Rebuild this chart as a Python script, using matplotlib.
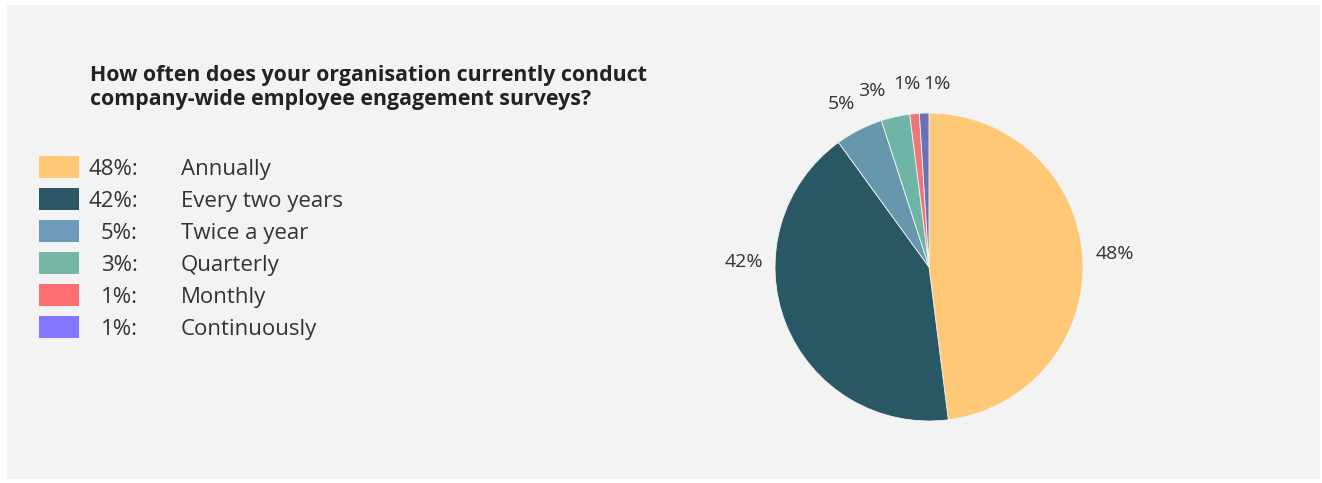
import matplotlib.pyplot as plt
from matplotlib.patches import Rectangle

# data
categories = ["Annually", "Every two years", "Twice a year", "Quarterly", "Monthly", "Continuously"]
values = [48, 42, 5, 3, 1, 1]
title = "How often does your organisation currently conduct\ncompany-wide employee engagement surveys?"
legend_colors = ["#FFC876", "#2C5665", "#6C9AB8", "#76B6A4", "#FF6E73", "#8576FF"]
pie_colors = ["#FFC876", "#2A5764", "#6797AD", "#6EB5A5", "#F07577", "#6A71B6"]

# label placement (in pie radius units), tuned to keep the small slices readable
label_pos = [(1.208, 0.097), (-1.201, 0.045), (-0.571, 1.071),
             (-0.370, 1.156), (-0.143, 1.201), (0.052, 1.201)]

W, H = 1322, 483
fig = plt.figure(figsize=(W / 100, H / 100), dpi=100)
fig.patch.set_facecolor("white")

# background axes in pixel coords (grey panel, title, legend)
bg = fig.add_axes([0, 0, 1, 1], zorder=-1)
bg.set_xlim(0, W)
bg.set_ylim(H, 0)
bg.axis("off")
bg.add_patch(Rectangle((7, 5), 1313, 474, facecolor="#F3F3F3", edgecolor="none"))

for k, line in enumerate(title.split("\n")):
    bg.text(90, 81 + 24 * k, line, fontsize=15.4, fontweight="bold", family="Open Sans",
            color="#222222", va="baseline", ha="left")

for i, (cat, v) in enumerate(zip(categories, values)):
    yc = 167 + 32 * i
    bg.add_patch(Rectangle((39, yc - 11), 40, 22, facecolor=legend_colors[i], edgecolor="none"))
    bg.text(138, yc + 8, f"{v}%:", fontsize=16, family="Open Sans", color="#333333",
            va="baseline", ha="right")
    bg.text(181, yc + 8, cat, fontsize=16, family="Open Sans", color="#333333",
            va="baseline", ha="left")

# pie
r = 154
ax = fig.add_axes([(929 - 1.3 * r) / W, (H - 267 - 1.3 * r) / H, 2.6 * r / W, 2.6 * r / H])
ax.set_facecolor("none")
wedges, texts = ax.pie(values, colors=pie_colors, startangle=90, counterclock=False,
                       labels=[f"{v}%" for v in values], labeldistance=1.2,
                       wedgeprops=dict(linewidth=0.6, edgecolor="#F3F3F3"),
                       textprops=dict(fontsize=14, family="Open Sans", color="#333333"))
for t, (px, py) in zip(texts, label_pos):
    t.set_ha("center")
    t.set_va("baseline")
    t.set_position((px, py - 0.045))
ax.set_xlim(-1.3, 1.3)
ax.set_ylim(-1.3, 1.3)
ax.set_aspect("equal")
ax.axis("off")

fig.savefig("out.png", dpi=100, facecolor=fig.get_facecolor())
